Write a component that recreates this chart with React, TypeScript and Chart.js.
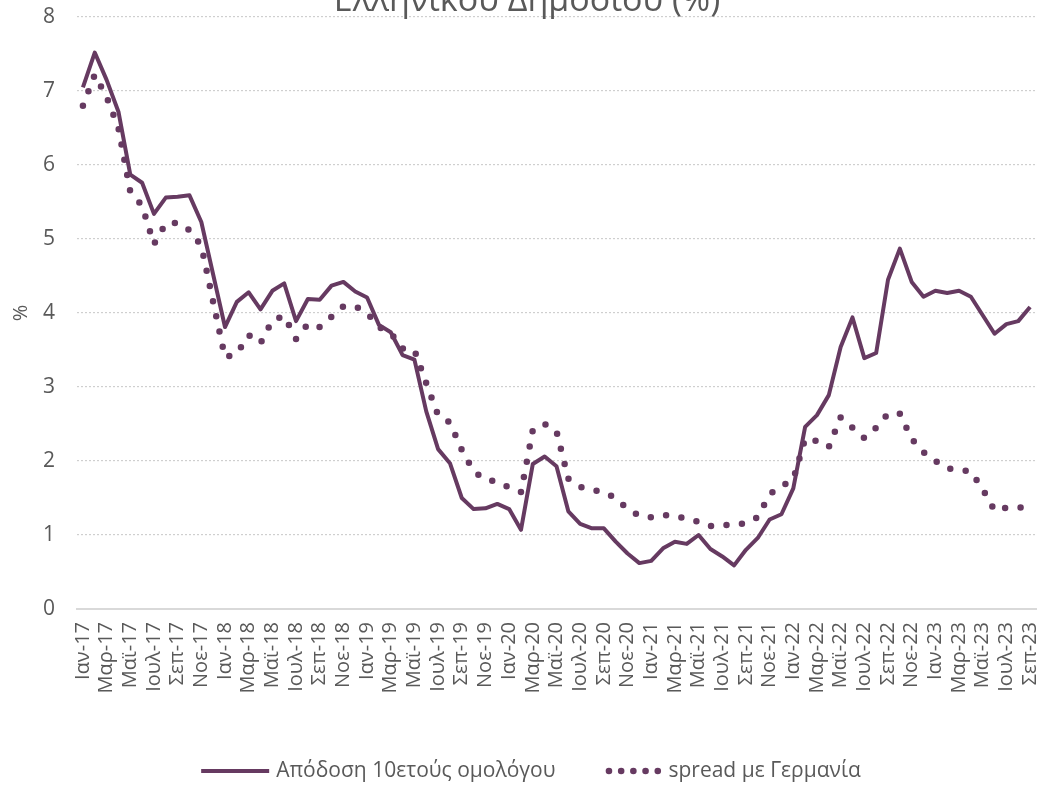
import React, { useEffect, useRef } from 'react';
import { Chart, registerables } from 'chart.js';

Chart.register(...registerables);

const TITLE = 'Ελληνικού Δημοσίου (%)';
const SERIES_NAMES = ['Απόδοση 10ετούς ομολόγου', 'spread με Γερμανία'];
const Y_TITLE = '%';

const MONTHS = ['Ιαν', 'Φεβ', 'Μαρ', 'Απρ', 'Μαϊ', 'Ιουν', 'Ιουλ', 'Αυγ', 'Σεπ', 'Οκτ', 'Νοε', 'Δεκ'];
const YEARS = ['17', '18', '19', '20', '21', '22', '23'];
const MONTHS_IN_LAST_YEAR = 9;

const labels: string[] = [];
YEARS.forEach((y, yi) => {
  MONTHS.forEach((m, mi) => {
    if (yi < YEARS.length - 1 || mi < MONTHS_IN_LAST_YEAR) labels.push(`${m}-${y}`);
  });
});

const yield10y = [
  7.05, 7.52, 7.15, 6.72, 5.87, 5.76, 5.34, 5.56, 5.57, 5.59,
  5.23, 4.52, 3.81, 4.15, 4.28, 4.05, 4.30, 4.40, 3.89, 4.19,
  4.18, 4.37, 4.42, 4.29, 4.21, 3.84, 3.74, 3.43, 3.37, 2.67,
  2.16, 1.97, 1.50, 1.35, 1.36, 1.42, 1.35, 1.07, 1.96, 2.06,
  1.93, 1.32, 1.15, 1.09, 1.09, 0.91, 0.75, 0.62, 0.65, 0.82,
  0.91, 0.88, 1.00, 0.81, 0.71, 0.59, 0.80, 0.96, 1.21, 1.28,
  1.63, 2.46, 2.62, 2.89, 3.54, 3.94, 3.39, 3.46, 4.45, 4.87,
  4.42, 4.22, 4.30, 4.27, 4.30, 4.22, 3.97, 3.72, 3.85, 3.89, 4.08,
];

const spreadDE = [
  6.80, 7.22, 6.92, 6.50, 5.64, 5.45, 4.93, 5.21, 5.22, 5.12,
  4.91, 4.15, 3.40, 3.45, 3.70, 3.59, 3.90, 3.96, 3.65, 3.85,
  3.81, 3.95, 4.09, 4.09, 4.00, 3.81, 3.73, 3.52, 3.50, 3.05,
  2.62, 2.52, 2.15, 1.86, 1.75, 1.72, 1.64, 1.58, 2.42, 2.50,
  2.40, 1.76, 1.65, 1.61, 1.58, 1.50, 1.35, 1.26, 1.24, 1.27,
  1.26, 1.22, 1.18, 1.12, 1.13, 1.14, 1.16, 1.24, 1.55, 1.66,
  1.75, 2.30, 2.27, 2.19, 2.59, 2.45, 2.31, 2.45, 2.64, 2.64,
  2.30, 2.12, 2.00, 1.90, 1.88, 1.86, 1.62, 1.33, 1.37, 1.37, 1.38,
];

const Y_MIN = 0;
const Y_MAX = 8;
const Y_STEP = 1;

const LINE_COLOR = '#663a61';
const TEXT_COLOR = '#595959';
const GRID_COLOR = '#cfcfcf';
const FONT_FAMILY = "'Open Sans', 'Noto Sans', sans-serif";

const overlayPlugin = {
  id: 'overlayTitleLegend',
  afterDraw(chart: any) {
    const ctx: CanvasRenderingContext2D = chart.ctx;
    ctx.save();
    // title (cut off at the top, as in the reference)
    ctx.fillStyle = TEXT_COLOR;
    ctx.font = `34px ${FONT_FAMILY}`;
    ctx.textAlign = 'center';
    ctx.textBaseline = 'alphabetic';
    ctx.fillText(TITLE, 527, 11);

    // legend
    ctx.font = `21px ${FONT_FAMILY}`;
    const w1 = ctx.measureText(SERIES_NAMES[0]).width;
    const w2 = ctx.measureText(SERIES_NAMES[1]).width;
    const sample1 = 68;
    const sample2 = 56;
    const gap = 7;
    const itemGap = 50;
    const total = sample1 + gap + w1 + itemGap + sample2 + gap + w2;
    let x = 531 - total / 2;
    const y = 771;
    ctx.strokeStyle = LINE_COLOR;
    ctx.lineWidth = 4;
    ctx.lineCap = 'butt';
    ctx.beginPath();
    ctx.moveTo(x, y);
    ctx.lineTo(x + sample1, y);
    ctx.stroke();
    x += sample1 + gap;
    ctx.fillStyle = TEXT_COLOR;
    ctx.textAlign = 'left';
    ctx.textBaseline = 'middle';
    ctx.fillText(SERIES_NAMES[0], x, y);
    x += w1 + itemGap;
    ctx.fillStyle = LINE_COLOR;
    for (let k = 0; k < 5; k++) {
      ctx.beginPath();
      ctx.arc(x + 3.5 + k * 12.2, y, 3.3, 0, Math.PI * 2);
      ctx.fill();
    }
    x += sample2 + gap;
    ctx.fillStyle = TEXT_COLOR;
    ctx.fillText(SERIES_NAMES[1], x, y);
    ctx.restore();
  },
};

export default function App() {
  const canvasRef = useRef<HTMLCanvasElement | null>(null);

  useEffect(() => {
    if (!canvasRef.current) return;
    const chart = new Chart(canvasRef.current, {
      type: 'line',
      data: {
        labels,
        datasets: [
          {
            label: SERIES_NAMES[0],
            data: yield10y,
            borderColor: LINE_COLOR,
            backgroundColor: LINE_COLOR,
            borderWidth: 4,
            pointRadius: 0,
            tension: 0,
            borderJoinStyle: 'round',
            fill: false,
          },
          {
            label: SERIES_NAMES[1],
            data: spreadDE,
            borderColor: LINE_COLOR,
            backgroundColor: LINE_COLOR,
            borderWidth: 6.5,
            borderDash: [0, 15.5],
            borderCapStyle: 'round',
            pointRadius: 0,
            tension: 0,
            fill: false,
          },
        ],
      },
      options: {
        animation: false,
        responsive: false,
        devicePixelRatio: 1,
        layout: { padding: { top: 17, right: 14, bottom: 66, left: 0 } },
        plugins: {
          legend: { display: false },
          title: { display: false },
          tooltip: { enabled: false },
        },
        scales: {
          x: {
            type: 'category',
            offset: true,
            grid: { display: false, drawTicks: false },
            border: { display: true, color: '#d9d9d9', width: 2 },
            ticks: {
              autoSkip: false,
              minRotation: 90,
              maxRotation: 90,
              padding: 13,
              color: TEXT_COLOR,
              font: { family: FONT_FAMILY, size: 20 },
              callback: (_v: any, i: number) => (i % 2 === 0 ? labels[i] : ''),
            },
            afterFit: (scale: any) => {
              scale.height = 110;
              scale.paddingLeft = 0;
              scale.paddingRight = 0;
              scale.paddingTop = 0;
              scale.paddingBottom = 0;
            },
          },
          y: {
            min: Y_MIN,
            max: Y_MAX,
            ticks: {
              stepSize: Y_STEP,
              padding: 22,
              color: TEXT_COLOR,
              font: { family: FONT_FAMILY, size: 21 },
            },
            grid: {
              drawTicks: false,
              lineWidth: 1.2,
              color: (c: any) => (c.tick && c.tick.value === 0 ? 'rgba(0,0,0,0)' : GRID_COLOR),
            },
            border: { display: false, dash: [2, 2] },
            title: {
              display: true,
              text: Y_TITLE,
              color: TEXT_COLOR,
              font: { family: FONT_FAMILY, size: 20 },
              padding: { top: 9, bottom: 0 },
            },
            afterFit: (scale: any) => {
              scale.width = 77;
              scale.paddingTop = 0;
              scale.paddingBottom = 0;
              scale.paddingLeft = 0;
              scale.paddingRight = 0;
            },
          },
        },
      },
      plugins: [overlayPlugin],
    } as any);
    return () => chart.destroy();
  }, []);

  return (
    <div style={{ position: 'fixed', left: 0, top: 0, width: 1050, height: 785, background: '#fff' }}>
      <canvas ref={canvasRef} width={1050} height={785} style={{ display: 'block', width: 1050, height: 785 }} />
    </div>
  );
}
